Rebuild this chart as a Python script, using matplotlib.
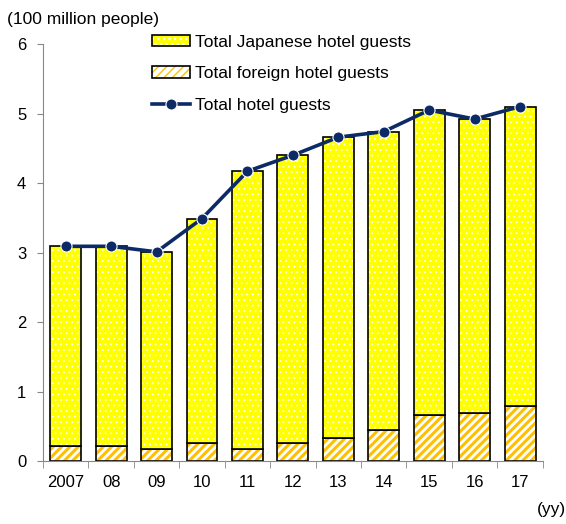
import numpy as np
import matplotlib
matplotlib.use("Agg")
import matplotlib.pyplot as plt
from matplotlib.patches import Patch
from matplotlib.lines import Line2D

plt.rcParams["font.family"] = ["Liberation Sans", "DejaVu Sans"]

# data (100 million people)
years = ["2007", "08", "09", "10", "11", "12", "13", "14", "15", "16", "17"]
total = [3.09, 3.09, 3.01, 3.49, 4.17, 4.40, 4.66, 4.74, 5.05, 4.92, 5.10]
foreign = [0.22, 0.22, 0.18, 0.26, 0.18, 0.26, 0.33, 0.45, 0.66, 0.69, 0.80]
japanese = [t - f for t, f in zip(total, foreign)]

yellow = "#FFFF00"
orange = "#FFC000"
navy = "#0B2A66"

x = np.arange(len(years))
w = 0.68

fig = plt.figure(figsize=(5.66, 5.24), dpi=100)
ax = fig.add_axes([0.076, 0.120, 0.883, 0.796])

# foreign guests: orange stripes on white
with plt.rc_context({"hatch.linewidth": 2.2}):
    ax.bar(x, foreign, w, color="white", edgecolor=orange, hatch="////", linewidth=0)
    h_for = Patch(facecolor="white", edgecolor=orange, hatch="////", linewidth=0)
ax.bar(x, foreign, w, fill=False, edgecolor="black", linewidth=1.2)

# Japanese guests: yellow with small white dots
with plt.rc_context({"hatch.linewidth": 0.6}):
    ax.bar(x, japanese, w, bottom=foreign, color=yellow, edgecolor="white",
           hatch="...", linewidth=0)
    h_jap = Patch(facecolor=yellow, edgecolor="white", hatch="...", linewidth=0)
ax.bar(x, japanese, w, bottom=foreign, fill=False, edgecolor="black", linewidth=1.2)

# total line
ax.plot(x, total, color=navy, linewidth=2.6, marker="o", markersize=8,
        markerfacecolor=navy, markeredgecolor="white", markeredgewidth=0.8)

ax.set_xlim(-0.5, len(years) - 0.5)
ax.set_ylim(0, 6)
ax.set_yticks(range(7))
ax.set_xticks(x)
ax.set_xticklabels(years)
ax.set_xticks(np.arange(-0.5, len(years)), minor=True)
ax.tick_params(axis="x", which="major", length=0, pad=10, labelsize=12)
ax.tick_params(axis="x", which="minor", length=5, color="#888888")
ax.tick_params(axis="y", length=4, color="#888888", pad=8, labelsize=12)

for s in ["top", "right"]:
    ax.spines[s].set_visible(False)
for s in ["left", "bottom"]:
    ax.spines[s].set_color("#888888")

fig.text(0.012, 0.962, "(100 million people)", fontsize=12.5, va="center")
fig.text(0.948, 0.028, "(yy)", fontsize=12.5, va="center")

outline = Patch(fill=False, edgecolor="black", linewidth=1.2)
handles = [
    (h_jap, outline),
    (h_for, outline),
    Line2D([0], [0], color=navy, linewidth=2.6, marker="o", markersize=8,
           markerfacecolor=navy, markeredgecolor="white", markeredgewidth=0.8),
]
labels = ["Total Japanese hotel guests", "Total foreign hotel guests",
          "Total hotel guests"]
ax.legend(handles, labels, loc="upper left", bbox_to_anchor=(0.186, 1.06),
          frameon=False, fontsize=12.5, handlelength=2.2, handleheight=0.6,
          handletextpad=0.3, labelspacing=0.95)

fig.savefig("out.png", dpi=100)
